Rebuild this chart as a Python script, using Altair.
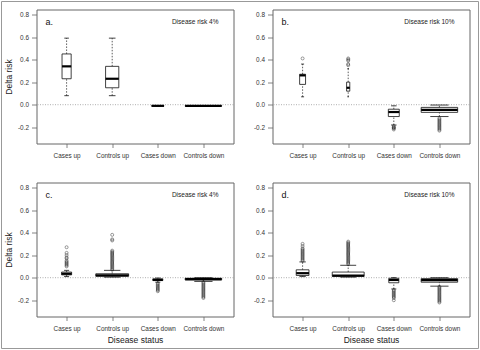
import altair as alt
import pandas as pd

categories = ["Cases up", "Controls up", "Cases down", "Controls down"]
positions = [1, 2, 3, 4]
panel_letters = ["a.", "b.", "c.", "d."]
panel_risks = ["Disease risk 4%", "Disease risk 10%", "Disease risk 4%", "Disease risk 10%"]
y_ticks = [-0.2, 0.0, 0.2, 0.4, 0.6, 0.8]

# panel a
a_low = [0.08, 0.08, -0.012, -0.012]
a_q1 = [0.23, 0.15, -0.013, -0.013]
a_med = [0.34, 0.23, -0.01, -0.01]
a_q3 = [0.45, 0.34, -0.008, -0.008]
a_high = [0.59, 0.59, -0.008, -0.008]
a_width = [0.2, 0.29, 0.27, 0.8]
a_out = [[], [], [], []]

# panel b
b_low = [0.07, 0.07, -0.18, -0.105]
b_q1 = [0.18, 0.12, -0.105, -0.068]
b_med = [0.26, 0.15, -0.065, -0.046]
b_q3 = [0.27, 0.20, -0.04, -0.024]
b_high = [0.36, 0.32, -0.01, -0.003]
b_width = [0.13, 0.07, 0.24, 0.8]
b_out = [
    [0.41],
    [0.35, 0.36, 0.39, 0.40, 0.41],
    [-0.19, -0.20, -0.205, -0.21, -0.22],
    [-0.12, -0.13, -0.14, -0.15, -0.16, -0.17, -0.18, -0.19, -0.20, -0.21, -0.22, -0.23],
]

# panel c
c_low = [0.01, 0.005, -0.04, -0.033]
c_q1 = [0.025, 0.013, -0.025, -0.02]
c_med = [0.035, 0.02, -0.02, -0.012]
c_q3 = [0.05, 0.035, -0.01, -0.005]
c_high = [0.065, 0.065, -0.003, 0.0]
c_width = [0.22, 0.72, 0.22, 0.8]
c_out = [
    [0.10, 0.11, 0.12, 0.13, 0.14, 0.15, 0.17, 0.18, 0.20, 0.22, 0.27],
    [0.07, 0.08, 0.09, 0.10, 0.11, 0.12, 0.13, 0.14, 0.15, 0.16, 0.17, 0.18,
     0.19, 0.20, 0.21, 0.22, 0.23, 0.24, 0.33, 0.34, 0.38],
    [-0.05, -0.06, -0.07, -0.08, -0.09, -0.10, -0.11, -0.12],
    [-0.04, -0.05, -0.06, -0.07, -0.08, -0.09, -0.10, -0.11, -0.12, -0.13,
     -0.14, -0.15, -0.16, -0.17, -0.18],
]

# panel d
d_low = [0.01, 0.005, -0.1, -0.075]
d_q1 = [0.02, 0.012, -0.045, -0.04]
d_med = [0.04, 0.018, -0.02, -0.022]
d_q3 = [0.07, 0.05, -0.005, -0.008]
d_high = [0.14, 0.11, 0.0, 0.0]
d_width = [0.28, 0.7, 0.22, 0.8]
d_out = [
    [0.15, 0.16, 0.17, 0.18, 0.19, 0.20, 0.21, 0.22, 0.23, 0.24, 0.25, 0.26, 0.28, 0.30],
    [0.12, 0.13, 0.14, 0.15, 0.16, 0.17, 0.18, 0.19, 0.20, 0.21, 0.22, 0.23,
     0.24, 0.25, 0.26, 0.27, 0.28, 0.29, 0.30, 0.31, 0.32],
    [-0.11, -0.12, -0.13, -0.14, -0.15, -0.16, -0.17, -0.18, -0.2],
    [-0.08, -0.09, -0.10, -0.11, -0.12, -0.13, -0.14, -0.15, -0.16, -0.17,
     -0.18, -0.19, -0.20, -0.21, -0.22],
]

FONT = "Liberation Sans"
W, H = 197, 134
xscale = alt.Scale(domain=[0.34, 4.66], nice=False, zero=False)
yscale = alt.Scale(domain=[-0.344, 0.844], nice=False, zero=False)

cat_expr = "[" + ",".join("'" + c + "'" for c in categories) + "][datum.value - 1]"
ylab_expr = "datum.value < 0 ? '-' + format(-datum.value, '.1f') : format(datum.value, '.1f')"


def make_axes(ytitle, xtitle):
    ykw = dict(values=y_ticks, labelExpr=ylab_expr, grid=False, domain=False,
               tickSize=5, tickColor="#666", tickWidth=0.8, labelFontSize=6.4,
               labelColor="#333", labelPadding=3, labelFont=FONT)
    if ytitle:
        ykw.update(title=ytitle, titleFontSize=8.5, titleFontWeight="normal",
                   titleColor="#222", titleFont=FONT, titleX=-28, titleY=67,
                   titleAngle=-90, titleAlign="center", titleBaseline="middle")
    else:
        ykw.update(title=None)
    xkw = dict(values=positions, labelExpr=cat_expr, grid=False, domain=False,
               tickSize=4, tickColor="#666", tickWidth=0.8, labelFontSize=6.4,
               labelColor="#333", labelPadding=5, labelAngle=0, labelFont=FONT)
    if xtitle:
        xkw.update(title=xtitle, titleFontSize=8.5, titleFontWeight="normal",
                   titleColor="#222", titleFont=FONT, titleY=23,
                   titleBaseline="middle")
    else:
        xkw.update(title=None)
    return alt.Axis(**ykw), alt.Axis(**xkw)


def make_panel(idx, low, q1, med, q3, high, widths, outs, ytitle, xtitle, frame=False):
    df = pd.DataFrame(dict(pos=positions, low=low, q1=q1, med=med, q3=q3,
                           high=high, w=widths))
    df["xl"] = df["pos"] - df["w"] / 2
    df["xr"] = df["pos"] + df["w"] / 2
    df["sl"] = df["pos"] - df["w"] / 4
    df["sr"] = df["pos"] + df["w"] / 4
    orows = []
    for p, vals in zip(positions, outs):
        for v in vals:
            orows.append({"pos": p, "val": v})
    odf = pd.DataFrame(orows if orows else [{"pos": 1, "val": None}])

    yaxis, xaxis = make_axes(ytitle, xtitle)

    def X(f):
        return alt.X(f, scale=xscale, axis=xaxis)

    def Y(f):
        return alt.Y(f, scale=yscale, axis=yaxis)

    base = alt.Chart(df)
    one = alt.Chart(pd.DataFrame({"k": [0]}))

    zero = one.mark_rule(color="#999", strokeDash=[1, 1.5], strokeWidth=0.8).encode(
        y=Y("zero:Q")).transform_calculate(zero="0")

    wh_up = base.mark_rule(color="#333", strokeDash=[1.5, 1.5], strokeWidth=0.8).encode(
        x=X("pos:Q"), y=Y("q3:Q"), y2="high:Q")
    wh_dn = base.mark_rule(color="#333", strokeDash=[1.5, 1.5], strokeWidth=0.8).encode(
        x=X("pos:Q"), y=Y("low:Q"), y2="q1:Q")
    st_up = base.mark_rule(color="#111", strokeWidth=0.8).encode(
        x=X("sl:Q"), x2="sr:Q", y=Y("high:Q"))
    st_dn = base.mark_rule(color="#111", strokeWidth=0.8).encode(
        x=X("sl:Q"), x2="sr:Q", y=Y("low:Q"))
    box = base.mark_rect(fill="white", stroke="#111", strokeWidth=0.8).encode(
        x=X("xl:Q"), x2="xr:Q", y=Y("q1:Q"), y2="q3:Q")
    median = base.mark_rule(color="#000", strokeWidth=2.2).encode(
        x=X("xl:Q"), x2="xr:Q", y=Y("med:Q"))
    pts = alt.Chart(odf).mark_point(shape="circle", filled=False, size=9,
                                    strokeWidth=0.6, color="#111").encode(
        x=X("pos:Q"), y=Y("val:Q"))
    letter = one.mark_text(align="left", baseline="middle", fontSize=9,
                           font=FONT, color="#111").encode(
        x=alt.value(9), y=alt.value(12), text=alt.value(panel_letters[idx]))
    risk = one.mark_text(align="right", baseline="middle", fontSize=6.5,
                         font=FONT, color="#222").encode(
        x=alt.value(W - 15), y=alt.value(12), text=alt.value(panel_risks[idx]))

    layers = []
    if frame:
        layers.append(one.mark_rect(fillOpacity=0, stroke="#999", strokeWidth=1).encode(
            x=alt.value(-35), x2=alt.value(442), y=alt.value(-8), y2=alt.value(339)))
    layers += [zero, wh_up, wh_dn, st_up, st_dn, box, median, pts, letter, risk]
    return alt.layer(*layers).properties(width=W, height=H)


pa = make_panel(0, a_low, a_q1, a_med, a_q3, a_high, a_width, a_out, "Delta risk", None, frame=True)
pb = make_panel(1, b_low, b_q1, b_med, b_q3, b_high, b_width, b_out, None, None)
pc = make_panel(2, c_low, c_q1, c_med, c_q3, c_high, c_width, c_out, "Delta risk", "Disease status")
pd_ = make_panel(3, d_low, d_q1, d_med, d_q3, d_high, d_width, d_out, None, "Disease status")

chart = alt.concat(pa, pb, pc, pd_, columns=2, spacing=39, bounds="flush").properties(
    padding=0.5, background="white"
).configure_view(stroke="#666", strokeWidth=1)

chart.save("out.html", embed_options={"renderer": "svg", "actions": False})
